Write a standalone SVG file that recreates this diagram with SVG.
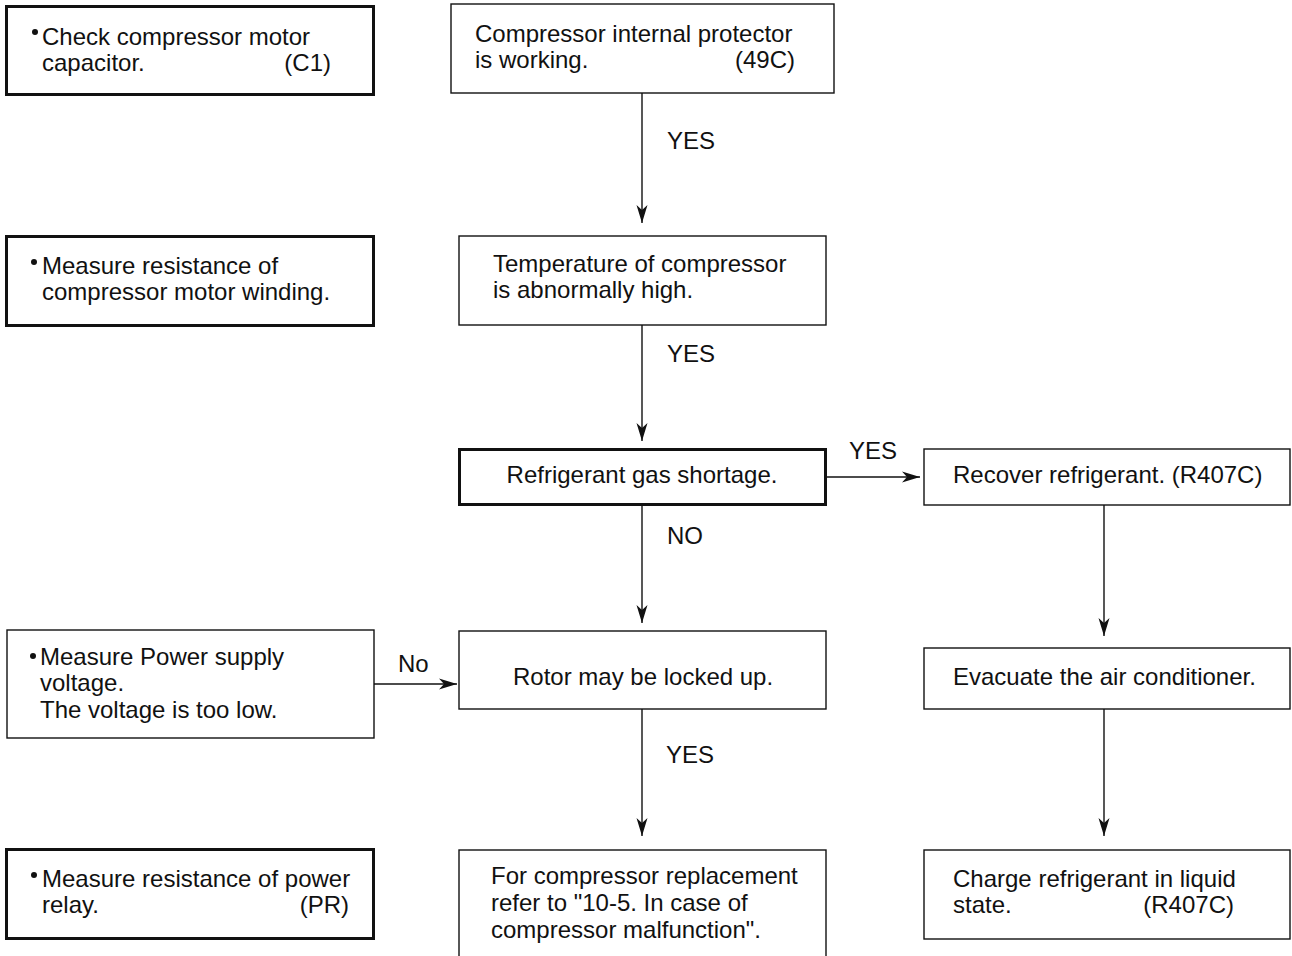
<svg xmlns="http://www.w3.org/2000/svg" width="1292" height="956" viewBox="0 0 1292 956">
  <style>
    text { font-family: "Liberation Sans", Arial, sans-serif; font-size: 24px; fill: #111; }
    .end { text-anchor: end; }
    .mid { text-anchor: middle; }
    .box { fill: #fff; stroke: #111; stroke-width: 1.4; }
    .thick { fill: #fff; stroke: #111; stroke-width: 3; }
    .flow { stroke: #111; stroke-width: 1.4; fill: none; marker-end: url(#head); }
    .dot { fill: #111; }
  </style>
  <defs>
    <marker id="head" markerUnits="userSpaceOnUse" markerWidth="20" markerHeight="14" viewBox="0 0 20 14" refX="18" refY="7" orient="auto">
      <path d="M0,1.5 L18,7 L0,12.5 L5,7 z" fill="#111"/>
    </marker>
  </defs>

  <!-- connectors -->
  <g id="connectors">
    <line class="flow" x1="642" y1="93" x2="642" y2="223"/>
    <line class="flow" x1="642" y1="325" x2="642" y2="441"/>
    <line class="flow" x1="642" y1="505" x2="642" y2="623"/>
    <line class="flow" x1="642" y1="709" x2="642" y2="836"/>
    <line class="flow" x1="826" y1="477" x2="920" y2="477"/>
    <line class="flow" x1="374" y1="684" x2="457" y2="684"/>
    <line class="flow" x1="1104" y1="505" x2="1104" y2="636"/>
    <line class="flow" x1="1104" y1="709" x2="1104" y2="836"/>
    <text x="667" y="149">YES</text>
    <text x="667" y="362">YES</text>
    <text x="849" y="459">YES</text>
    <text x="667" y="544">NO</text>
    <text x="398" y="672">No</text>
    <text x="666" y="763">YES</text>
  </g>

  <!-- left-hand check items -->
  <g id="check-capacitor">
    <rect class="thick" x="6.5" y="6.5" width="367" height="88"/>
    <circle class="dot" cx="35" cy="32" r="3"/>
    <text x="42" y="45">Check compressor motor</text>
    <text x="42" y="71">capacitor.</text>
    <text class="end" x="331" y="71">(C1)</text>
  </g>
  <g id="check-winding">
    <rect class="thick" x="6.5" y="236.5" width="367" height="89"/>
    <circle class="dot" cx="34" cy="262" r="3"/>
    <text x="42" y="274">Measure resistance of</text>
    <text x="42" y="300">compressor motor winding.</text>
  </g>
  <g id="check-voltage">
    <rect class="box" x="7" y="630" width="367" height="108"/>
    <circle class="dot" cx="33" cy="656" r="3"/>
    <text x="40" y="665">Measure Power supply</text>
    <text x="40" y="691">voltage.</text>
    <text x="40" y="718">The voltage is too low.</text>
  </g>
  <g id="check-relay">
    <rect class="thick" x="6.5" y="849.5" width="367" height="89"/>
    <circle class="dot" cx="34" cy="875" r="3"/>
    <text x="42" y="887">Measure resistance of power</text>
    <text x="42" y="913">relay.</text>
    <text class="end" x="349" y="913">(PR)</text>
  </g>

  <!-- main column -->
  <g id="protector">
    <rect class="box" x="451" y="4" width="383" height="89"/>
    <text x="475" y="42">Compressor internal protector</text>
    <text x="475" y="68">is working.</text>
    <text class="end" x="795" y="68">(49C)</text>
  </g>
  <g id="temperature">
    <rect class="box" x="459" y="236" width="367" height="89"/>
    <text x="493" y="272">Temperature of compressor</text>
    <text x="493" y="298">is abnormally high.</text>
  </g>
  <g id="gas-shortage">
    <rect class="thick" x="459.5" y="449.5" width="366" height="55"/>
    <text class="mid" x="642" y="483">Refrigerant gas shortage.</text>
  </g>
  <g id="rotor">
    <rect class="box" x="459" y="631" width="367" height="78"/>
    <text x="513" y="685">Rotor may be locked up.</text>
  </g>
  <g id="replacement">
    <rect class="box" x="459" y="850" width="367" height="110"/>
    <text x="491" y="884">For compressor replacement</text>
    <text x="491" y="911">refer to "10-5. In case of</text>
    <text x="491" y="938">compressor malfunction".</text>
  </g>

  <!-- refrigerant recovery column -->
  <g id="recover">
    <rect class="box" x="924" y="449" width="366" height="56"/>
    <text x="953" y="483">Recover refrigerant. (R407C)</text>
  </g>
  <g id="evacuate">
    <rect class="box" x="924" y="648" width="366" height="61"/>
    <text x="953" y="685">Evacuate the air conditioner.</text>
  </g>
  <g id="charge">
    <rect class="box" x="924" y="850" width="366" height="89"/>
    <text x="953" y="887">Charge refrigerant in liquid</text>
    <text x="953" y="913">state.</text>
    <text class="end" x="1234" y="913">(R407C)</text>
  </g>
</svg>
